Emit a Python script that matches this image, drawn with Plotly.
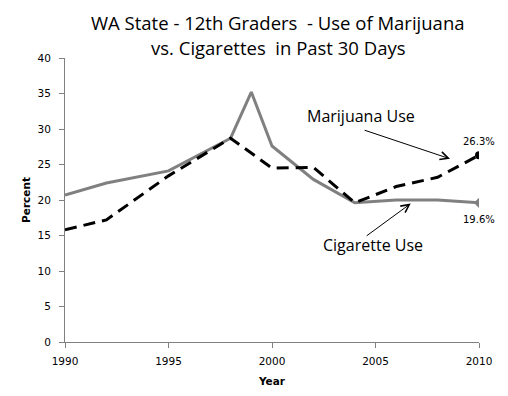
import plotly.graph_objects as go

years_cig = [1990, 1992, 1995, 1998, 1999, 2000, 2002, 2004, 2006, 2008, 2010]
cigarette = [20.7, 22.4, 24.1, 28.7, 35.2, 27.6, 22.9, 19.6, 20.0, 20.0, 19.6]
years_mj = [1990, 1992, 1995, 1998, 2000, 2002, 2004, 2006, 2008, 2010]
marijuana = [15.8, 17.2, 23.4, 28.7, 24.5, 24.6, 19.6, 21.9, 23.2, 26.3]
x_ticks = [1990, 1995, 2000, 2005, 2010]
y_ticks = [0, 5, 10, 15, 20, 25, 30, 35, 40]
title_lines = ["WA State - 12th Graders  - Use of Marijuana", "vs. Cigarettes  in Past 30 Days"]

title_font = "Open Sans"
tick_font = dict(family="DejaVu Sans", size=10.5, color="black")

fig = go.Figure()
fig.add_trace(go.Scatter(x=years_cig, y=cigarette, mode="lines",
                         line=dict(color="#808080", width=3), showlegend=False))
fig.add_trace(go.Scatter(x=years_mj, y=marijuana, mode="lines",
                         line=dict(color="black", width=3, dash="12px,7px"), showlegend=False))
fig.add_trace(go.Scatter(x=[years_cig[-1]], y=[cigarette[-1]], mode="markers",
                         marker=dict(symbol="diamond", size=8, color="#808080"), showlegend=False))
fig.add_trace(go.Scatter(x=[years_mj[-1]], y=[marijuana[-1]], mode="markers",
                         marker=dict(symbol="circle", size=8, color="black"), showlegend=False))

fig.update_layout(
    width=508, height=396,
    margin=dict(l=57, r=37, t=50, b=62),
    paper_bgcolor="white", plot_bgcolor="white",
    xaxis=dict(range=[1990, 2010], tickvals=x_ticks, ticks="outside", ticklen=5,
               tickcolor="#808080", showline=True, linecolor="#808080", linewidth=1,
               showgrid=False, zeroline=False, tickfont=tick_font, automargin=False,
               ticklabelstandoff=4,
               title=dict(text="<b>Year</b>", font=dict(family="DejaVu Sans", size=10.5, color="black"), standoff=12)),
    yaxis=dict(range=[0, 40], tickvals=y_ticks, ticks="outside", ticklen=5,
               tickcolor="#808080", showline=True, linecolor="#808080", linewidth=1,
               showgrid=False, zeroline=False, tickfont=tick_font, automargin=False,
               ticklabelstandoff=6,
               title=dict(text="<b>Percent</b>", font=dict(family="DejaVu Sans", size=10.5, color="black"), standoff=4)),
)

for i, line in enumerate(title_lines):
    fig.add_annotation(x=0.5, y=1, xref="paper", yref="paper", yanchor="middle",
                       xshift=6, yshift=[36, 11][i], text=line, showarrow=False,
                       font=dict(family=title_font, size=18.5, color="black"))

ann_font = dict(family=title_font, size=16, color="black")
fig.add_annotation(x=2008.6, y=25.8, ax=2004.4, ay=29.9, xref="x", yref="y", axref="x", ayref="y",
                   showarrow=True, arrowhead=5, arrowsize=1.6, arrowwidth=1, arrowcolor="black", text="")
fig.add_annotation(x=2004.3, y=31.8, text="Marijuana Use", showarrow=False, font=ann_font)
fig.add_annotation(x=2006.7, y=19.5, ax=2004.5, ay=14.8, xref="x", yref="y", axref="x", ayref="y",
                   showarrow=True, arrowhead=5, arrowsize=1.6, arrowwidth=1, arrowcolor="black", text="")
fig.add_annotation(x=2004.9, y=13.6, text="Cigarette Use", showarrow=False, font=ann_font)
fig.add_annotation(x=2010, y=28.2, text="26.3%", showarrow=False,
                   font=dict(family="DejaVu Sans", size=10, color="black"))
fig.add_annotation(x=2010, y=17.2, text="19.6%", showarrow=False,
                   font=dict(family="DejaVu Sans", size=10, color="black"))

fig.write_html("out.html")
